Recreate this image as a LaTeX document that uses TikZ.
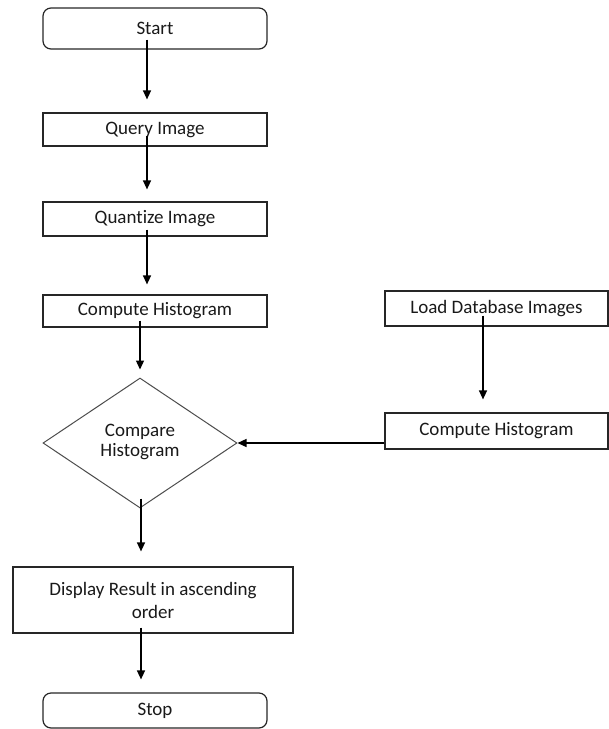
\documentclass[tikz,border=0pt]{standalone}
\usepackage{fontspec}
\setmainfont[Ligatures=NoCommon]{Carlito}
\usetikzlibrary{arrows.meta,shapes.geometric}
\begin{document}
\begin{tikzpicture}[x=1pt,y=-1pt,
  box/.style={draw=black!85, line width=1.2pt, inner sep=0pt, align=center,
    font=\fontsize{19}{23}\selectfont, text=black!90},
  rbox/.style={box, rounded corners=8pt},
  dia/.style={diamond, draw=black!70, line width=1pt, inner sep=0pt, align=center,
    font=\fontsize{19}{23}\selectfont, text=black!90,
    minimum width=194pt, minimum height=130pt, aspect=1.49},
  arr/.style={line width=1.3pt, draw=black, -{Triangle[length=9pt,width=8pt]}}
]
\useasboundingbox (0,0) rectangle (609,729);

\node[rbox, minimum width=224pt, minimum height=41pt] (start) at (155,28.5) {Start};
\node[box, minimum width=224pt, minimum height=33pt] (query) at (155,129.5) {Query Image};
\node[box, minimum width=224pt, minimum height=34pt] (quant) at (155,219) {Quantize Image};
\node[box, minimum width=224pt, minimum height=32pt] (comp) at (155,311) {Compute Histogram};
\node[box, minimum width=223pt, minimum height=35pt] (load) at (496.5,308.5) {Load Database Images};
\node[box, minimum width=223pt, minimum height=36pt] (rcomp) at (496.5,431) {Compute Histogram};
\node[dia] (diam) at (140,443) {\raisebox{5pt}{\shortstack{Compare\\[1pt]Histogram}}};
\node[box, minimum width=280pt, minimum height=66pt] (disp) at (153,600) {Display Result in ascending\\order};
\node[rbox, minimum width=224pt, minimum height=35pt] (stop) at (155,710.5) {Stop};

\draw[arr] ([xshift=-8pt,yshift=10pt]start.south) -- ([xshift=-8pt,yshift=13pt]query.north);
\draw[arr] ([xshift=-8pt,yshift=11pt]query.south) -- ([xshift=-8pt,yshift=12pt]quant.north);
\draw[arr] ([xshift=-8pt,yshift=7pt]quant.south) -- ([xshift=-8pt,yshift=10pt]comp.north);
\draw[arr] ([xshift=-15pt,yshift=7pt]comp.south) -- ([yshift=8pt]diam.north);
\draw[arr] ([xshift=-13.5pt,yshift=11pt]load.south) -- ([xshift=-13.5pt,yshift=13pt]rcomp.north);
\draw[arr] (rcomp.west |- diam.east) -- (diam.east);
\draw[arr] ([xshift=1pt,yshift=10pt]diam.south) -- ([xshift=-12pt,yshift=15pt]disp.north);
\draw[arr] ([xshift=-12pt,yshift=6pt]disp.south) -- ([xshift=-14pt,yshift=13pt]stop.north);
\end{tikzpicture}
\end{document}
